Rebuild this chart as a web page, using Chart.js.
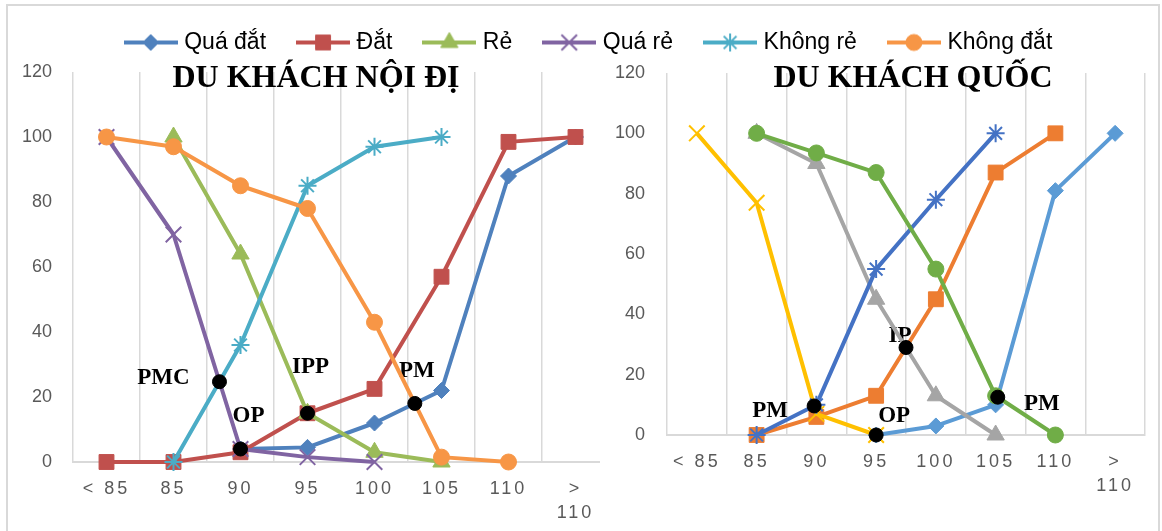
<!DOCTYPE html>
<html lang="vi">
<head>
    <meta charset="UTF-8">
    <title>Du khách nội địa - quốc tế</title>
    <script src="https://cdn.jsdelivr.net/npm/chart.js"></script>
    <style>
        html, body { margin: 0; padding: 0; background: #fff; }
        body { width: 1162px; height: 531px; position: relative; overflow: hidden; }
        canvas { position: absolute; }
        #leftChart { left: 0; top: 0; z-index: 1; }
        #rightChart { left: 600px; top: 55px; z-index: 2; background: #fff; }
        #legendChart { left: 0; top: -4px; z-index: 3; }
        .frame { position: absolute; left: 6px; top: 4px; width: 1154px; height: 600px;
                 border: 2px solid #d9d9d9; box-sizing: border-box; z-index: 4; pointer-events: none; }
    </style>
</head>
<body>
    <canvas id="leftChart" width="1162" height="531"></canvas>
    <canvas id="rightChart" width="558" height="476"></canvas>
    <canvas id="legendChart" width="1162" height="150"></canvas>
    <div class="frame"></div>
    <script>
        const priceLabels = ['< 85', '85', '90', '95', '100', '105', '110', ['>', '110']];
        const seriesNames = ['Quá đắt', 'Đắt', 'Rẻ', 'Quá rẻ', 'Không rẻ', 'Không đắt'];

        // du khách nội địa (%)
        const noiDiaQuaDat   = [null, null, 4, 4.5, 12, 22, 88, 100];
        const noiDiaDat      = [0, 0, 3, 15, 22.5, 57, 98.5, 100];
        const noiDiaRe       = [null, 100, 64, 15, 3, 0, null, null];
        const noiDiaQuaRe    = [100, 70, 4, 1.5, 0, null, null, null];
        const noiDiaKhongRe  = [null, 0, 36, 85, 97, 100, null, null];
        const noiDiaKhongDat = [100, 97, 85, 78, 43, 1.5, 0, null];

        // du khách quốc tế (%)
        const quocTeQuaDat   = [null, null, null, 0, 3, 10, 81, 100];
        const quocTeDat      = [null, 0, 6, 13, 45, 87, 100, null];
        const quocTeRe       = [null, 100, 90, 45, 13, 0, null, null];
        const quocTeQuaRe    = [100, 77, 7, 0, null, null, null, null];
        const quocTeKhongRe  = [null, 0, 10, 55, 78, 100, null, null];
        const quocTeKhongDat = [null, 100, 93.5, 87, 55, 13, 0, null];

        // price points = crossing of two curves (indexes into seriesNames)
        const pricePointPairs = [[3, 4], [3, 0], [2, 1], [0, 5]];
        const noiDiaPointNames = ['PMC', 'OP', 'IPP', 'PM'];
        const quocTePointNames = ['PM', 'OP', 'IP', 'PM'];

        const colors2007 = ['#4F81BD', '#C0504D', '#9BBB59', '#8064A2', '#4BACC6', '#F79646'];
        const colors2013 = ['#5B9BD5', '#ED7D31', '#A5A5A5', '#FFC000', '#4472C4', '#70AD47'];
        const markerStyles = ['rectRot', 'rect', 'triangle', 'crossRot', 'star', 'circle'];
        const markerSizes = [8, 10.5, 10, 11, 9, 8];

        const axisFont = { family: '"Liberation Sans", Arial, sans-serif', size: 18 };
        const serif = '"Liberation Serif", "Times New Roman", serif';

        function crossing(a, b) {
            for (let i = 0; i < a.length; i++) {
                if (a[i] == null || b[i] == null) continue;
                const d0 = a[i] - b[i];
                if (d0 === 0) return { x: i, y: a[i] };
                if (a[i + 1] == null || b[i + 1] == null) continue;
                const d1 = a[i + 1] - b[i + 1];
                if (d0 * d1 < 0) {
                    const t = d0 / (d0 - d1);
                    return { x: i + t, y: a[i] + t * (a[i + 1] - a[i]) };
                }
            }
            return null;
        }

        function isLineMarker(style) {
            return style === 'crossRot' || style === 'star';
        }

        // title, point labels and spaced x labels
        function psmPlugin(cfg) {
            return {
                id: 'psm',
                beforeDatasetsDraw(chart) {
                    const ctx = chart.ctx;
                    ctx.save();
                    ctx.fillStyle = '#000';
                    ctx.textAlign = 'center';
                    ctx.textBaseline = 'alphabetic';
                    ctx.font = 'bold ' + cfg.titleSize + 'px ' + serif;
                    ctx.fillText(cfg.title, cfg.titleX, cfg.titleY);
                    ctx.font = 'bold 23px ' + serif;
                    ctx.textBaseline = 'middle';
                    const meta = chart.getDatasetMeta(chart.data.datasets.length - 1);
                    meta.data.forEach((pt, i) => {
                        if (pt.skip) return;
                        ctx.fillText(cfg.names[i], pt.x + cfg.offsets[i][0], pt.y + cfg.offsets[i][1]);
                    });
                    ctx.restore();
                },
                afterDatasetsDraw(chart) { chart.ctx.letterSpacing = '3px'; },
                afterDraw(chart) { chart.ctx.letterSpacing = '0px'; }
            };
        }

        function buildChart(id, series, colors, cfg) {
            const datasets = series.map((data, i) => ({
                label: seriesNames[i],
                data: data,
                borderColor: colors[i],
                backgroundColor: colors[i],
                borderWidth: 4,
                borderJoinStyle: 'round',
                pointStyle: markerStyles[i],
                pointRadius: markerSizes[i],
                pointBorderWidth: isLineMarker(markerStyles[i]) ? 2 : 1,
                pointBorderColor: colors[i],
                pointBackgroundColor: colors[i],
                clip: false,
                order: series.length - i
            }));
            datasets.push({
                label: 'Điểm giá',
                xAxisID: 'xd',
                data: pricePointPairs.map(p => crossing(series[p[0]], series[p[1]])),
                showLine: false,
                pointRadius: 7,
                pointBackgroundColor: '#000',
                pointBorderColor: '#000',
                clip: false,
                order: -1
            });

            return new Chart(document.getElementById(id), {
                type: 'line',
                data: { labels: priceLabels, datasets: datasets },
                options: {
                    responsive: false,
                    animation: false,
                    events: [],
                    layout: { padding: cfg.padding },
                    plugins: { legend: { display: false }, tooltip: { enabled: false } },
                    scales: {
                        x: {
                            offset: true,
                            grid: { offset: true, color: '#d9d9d9', lineWidth: 1.5, drawTicks: false },
                            border: { color: '#d9d9d9', width: 2 },
                            ticks: {
                                color: '#595959', font: Object.assign({ lineHeight: 1.35 }, axisFont),
                                padding: 15, autoSkip: false, maxRotation: 0, z: 1
                            },
                            afterFit(scale) { scale.height = cfg.xHeight; }
                        },
                        xd: { type: 'linear', display: false, min: -0.5, max: 7.5 },
                        y: {
                            min: 0,
                            max: 120,
                            grid: { display: false, drawTicks: false },
                            border: { display: false },
                            ticks: { stepSize: 20, color: '#595959', font: axisFont, padding: cfg.yPad },
                            afterFit(scale) {
                                scale.width = cfg.yWidth;
                                scale.paddingTop = 0;
                                scale.paddingBottom = 0;
                            }
                        }
                    }
                },
                plugins: [psmPlugin(cfg)]
            });
        }

        buildChart('leftChart',
            [noiDiaQuaDat, noiDiaDat, noiDiaRe, noiDiaQuaRe, noiDiaKhongRe, noiDiaKhongDat],
            colors2007, {
                title: 'DU KHÁCH NỘI ĐỊ', titleSize: 32, titleX: 316, titleY: 87,
                names: noiDiaPointNames,
                offsets: [[-56, -4], [8, -33], [3, -46], [2, -32]],
                padding: { top: 72, right: 553 }, xHeight: 69, yWidth: 73, yPad: 21
            });

        buildChart('rightChart',
            [quocTeQuaDat, quocTeDat, quocTeRe, quocTeQuaRe, quocTeKhongRe, quocTeKhongDat],
            colors2013, {
                title: 'DU KHÁCH QUỐC', titleSize: 32, titleX: 313, titleY: 32,
                names: quocTePointNames,
                offsets: [[-44, 5], [18, -19], [-6, -11], [44, 7]],
                padding: { top: 18, right: 11 }, xHeight: 96, yWidth: 67, yPad: 22
            });

        // legend icons: short line with the marker in the middle
        function legendIcon(i) {
            const c = document.createElement('canvas');
            c.width = 54;
            c.height = 24;
            const ctx = c.getContext('2d');
            ctx.strokeStyle = colors2007[i];
            ctx.fillStyle = colors2007[i];
            ctx.lineWidth = 4;
            ctx.beginPath();
            ctx.moveTo(0, 12);
            ctx.lineTo(54, 12);
            ctx.stroke();
            ctx.lineWidth = isLineMarker(markerStyles[i]) ? 2 : 1;
            if (Chart.helpers && Chart.helpers.drawPoint) {
                Chart.helpers.drawPoint(ctx, {
                    pointStyle: markerStyles[i], radius: markerSizes[i], rotation: 0, borderWidth: ctx.lineWidth
                }, 27, 12);
            } else {
                ctx.beginPath();
                ctx.arc(27, 12, 7, 0, Math.PI * 2);
                ctx.fill();
            }
            return c;
        }
        const legendIcons = seriesNames.map((n, i) => legendIcon(i));

        new Chart(document.getElementById('legendChart'), {
            type: 'line',
            data: {
                labels: [],
                datasets: seriesNames.map((name, i) => ({
                    label: name, data: [], borderColor: colors2007[i], backgroundColor: colors2007[i]
                }))
            },
            options: {
                responsive: false,
                animation: false,
                events: [],
                layout: { padding: { left: 19 } },
                scales: { x: { display: false }, y: { display: false } },
                plugins: {
                    tooltip: { enabled: false },
                    legend: {
                        position: 'top',
                        align: 'center',
                        labels: {
                            usePointStyle: true,
                            pointStyleWidth: 44,
                            padding: 35,
                            color: '#000',
                            font: { family: '"Liberation Sans", Arial, sans-serif', size: 23 },
                            generateLabels: chart => chart.data.datasets.map((ds, i) => ({
                                text: ds.label,
                                pointStyle: legendIcons[i],
                                fillStyle: ds.backgroundColor,
                                strokeStyle: ds.borderColor,
                                fontColor: '#000',
                                lineWidth: 0,
                                hidden: false,
                                datasetIndex: i
                            }))
                        }
                    }
                }
            }
        });
    </script>
</body>
</html>
